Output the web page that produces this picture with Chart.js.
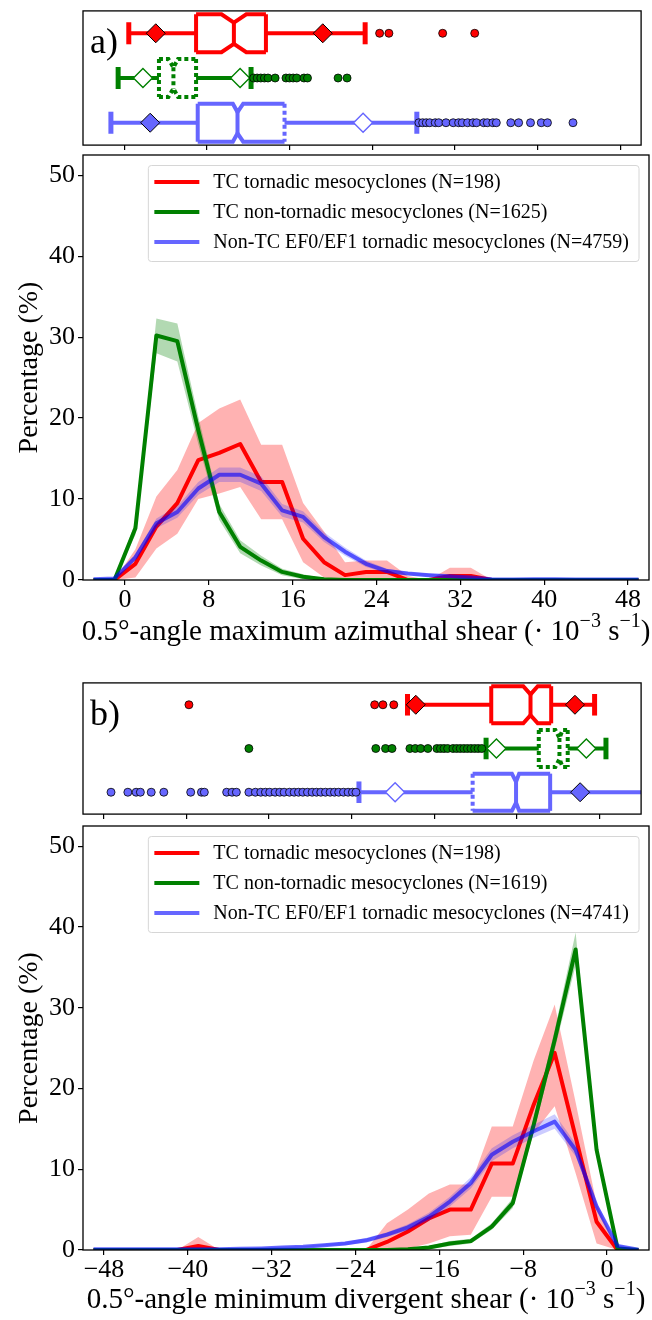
<!DOCTYPE html>
<html>
<head>
<meta charset="utf-8">
<script src="https://cdn.jsdelivr.net/npm/chart.js@4.4.1/dist/chart.umd.min.js"></script>
<style>
  html, body { margin: 0; padding: 0; background: #fff; }
  #wrap { position: relative; width: 652px; height: 1320px; overflow: hidden; }
  canvas { position: absolute; left: 0; }
</style>
</head>
<body>
<div id="wrap">
  <canvas id="boxA" width="652" height="156" style="top:0px"></canvas>
  <canvas id="lineA" width="652" height="510" style="top:150px"></canvas>
  <canvas id="boxB" width="652" height="153" style="top:672px"></canvas>
  <canvas id="lineB" width="652" height="500" style="top:820px"></canvas>
</div>
<script>
const SERIF = "'Liberation Serif', 'DejaVu Serif', serif";
const RED = '#ff0000', GREEN = '#008000', BLUE = '#6666ff';
const BLUE_LINE = 'rgba(0,0,255,0.6)';

// ---- panel a: maximum azimuthal shear ----
const xA = [-3, -1, 1, 3, 5, 7, 9, 11, 13, 15, 17, 19, 21, 23, 25, 27, 29, 31, 33, 35, 37, 39, 41, 43, 45, 47, 49];
const redA   = [0, 0, 2.0, 6.6, 9.5, 14.8, 15.7, 16.8, 12.1, 12.1, 5.1, 2.2, 0.6, 1.0, 1.0, 0, 0, 0.5, 0.5, 0, 0, 0, 0, 0, 0, 0, 0];
const redLoA = [0, 0, 0.3, 3.9, 5.7, 10.0, 10.7, 11.5, 7.5, 7.5, 2.2, 0.3, 0, 0, 0, 0, 0, 0, 0, 0, 0, 0, 0, 0, 0, 0, 0];
const redHiA = [0, 0, 3.8, 10.3, 13.6, 19.4, 21.2, 22.3, 16.7, 16.7, 9.5, 6.0, 2.2, 2.4, 2.4, 0.5, 0, 1.5, 1.5, 0, 0, 0, 0, 0, 0, 0, 0];
const greenA   = [0, 0, 6.4, 30.2, 29.5, 18.5, 8.4, 4.1, 2.4, 1.0, 0.4, 0.1, 0, 0, 0, 0, 0, 0, 0, 0, 0, 0, 0, 0, 0, 0, 0];
const greenLoA = [0, 0, 5.6, 28.0, 27.0, 16.8, 7.4, 3.3, 1.8, 0.6, 0.1, 0, 0, 0, 0, 0, 0, 0, 0, 0, 0, 0, 0, 0, 0, 0, 0];
const greenHiA = [0, 0, 7.2, 32.3, 31.7, 20.2, 9.4, 4.9, 3.0, 1.4, 0.7, 0.2, 0, 0, 0, 0, 0, 0, 0, 0, 0, 0, 0, 0, 0, 0, 0];
const blueA   = [0.1, 0.2, 2.8, 7.0, 8.4, 11.3, 13.0, 13.0, 11.9, 8.6, 7.8, 5.3, 3.5, 2.0, 1.1, 0.8, 0.6, 0.45, 0.3, 0.1, 0.05, 0.1, 0.1, 0.05, 0.05, 0.05, 0.05];
const blueLoA = [0.05, 0.1, 2.4, 6.4, 7.7, 10.5, 12.1, 12.1, 11.0, 7.8, 7.1, 4.7, 3.0, 1.6, 0.8, 0.6, 0.4, 0.3, 0.2, 0.05, 0, 0.05, 0.05, 0, 0, 0, 0];
const blueHiA = [0.15, 0.3, 3.2, 7.6, 9.1, 12.1, 13.9, 13.9, 12.8, 9.4, 8.5, 5.9, 4.0, 2.4, 1.4, 1.0, 0.8, 0.6, 0.4, 0.15, 0.1, 0.15, 0.15, 0.1, 0.1, 0.1, 0.1];
const labelsA = ['TC tornadic mesocyclones (N=198)', 'TC non-tornadic mesocyclones (N=1625)', 'Non-TC EF0/EF1 tornadic mesocyclones (N=4759)'];
const xTicksA = [0, 8, 16, 24, 32, 40, 48];

// box rows: red, green, blue
const whiskLoA = [0.43, -0.6, -1.3];
const q1A      = [6.94, 3.35, 7.1];
const notchLoA = [9.4, 4.26, 10.5];
const medA     = [10.6, 4.75, 10.95];
const notchHiA = [11.8, 5.2, 11.5];
const q3A      = [13.7, 6.94, 15.5];
const whiskHiA = [23.3, 12.26, 28.3];
const markLoA  = [3.04, 1.8, 2.5];
const markHiA  = [19.2, 11.2, 23.1];
const markFilledA = [[true, true], [false, false], [true, false]];
const outRedA   = [24.7, 25.6, 30.8, 33.9];
const outGreenA = [12.51, 12.85, 13.2, 13.55, 13.9, 14.59, 15.64, 15.98, 16.33, 16.68, 17.38, 17.72, 20.68, 21.55];
const outBlueA  = [28.5, 28.86, 29.21, 29.55, 30.08, 30.42, 31.12, 31.82, 32.34, 32.69, 33.21, 33.73, 34.08, 34.77, 35.12, 35.65, 35.99, 37.39, 38.15, 39.3, 40.34, 40.94, 43.41];

// ---- panel b: minimum divergent shear ----
const xB = [-49, -47, -45, -43, -41, -39, -37, -35, -33, -31, -29, -27, -25, -23, -21, -19, -17, -15, -13, -11, -9, -7, -5, -3, -1, 1, 3];
const redB   = [0, 0, 0, 0, 0, 0.5, 0, 0, 0, 0, 0, 0, 0, 0, 1.0, 2.3, 3.9, 5.0, 5.0, 10.7, 10.7, 18.0, 24.4, 14.0, 3.5, 0, 0];
const redLoB = [0, 0, 0, 0, 0, 0, 0, 0, 0, 0, 0, 0, 0, 0, 0, 0.2, 0.8, 1.7, 1.9, 6.6, 6.6, 14.5, 17.8, 9.5, 0.8, 0, 0];
const redHiB = [0, 0, 0, 0, 0, 1.6, 0, 0, 0, 0, 0, 0, 0, 0, 3.3, 5.0, 7.0, 8.1, 8.1, 15.3, 15.3, 23.5, 30.4, 18.3, 5.7, 0, 0];
const greenB   = [0, 0, 0, 0, 0, 0, 0, 0, 0, 0, 0, 0, 0, 0, 0, 0.1, 0.3, 0.8, 1.1, 2.9, 5.8, 15.5, 26.0, 37.2, 12.4, 0.2, 0];
const greenLoB = [0, 0, 0, 0, 0, 0, 0, 0, 0, 0, 0, 0, 0, 0, 0, 0, 0.1, 0.5, 0.8, 2.5, 5.2, 14.6, 24.8, 35.3, 11.5, 0.1, 0];
const greenHiB = [0, 0, 0, 0, 0, 0, 0, 0, 0, 0, 0, 0, 0, 0, 0, 0.2, 0.5, 1.1, 1.4, 3.3, 6.4, 16.4, 27.2, 39.3, 13.3, 0.3, 0];
const blueB   = [0.1, 0.1, 0.1, 0.1, 0.1, 0.1, 0.1, 0.15, 0.2, 0.3, 0.4, 0.6, 0.8, 1.2, 1.9, 2.8, 4.1, 6.0, 8.3, 11.8, 13.4, 14.7, 15.9, 12.4, 5.4, 0.5, 0.05];
const blueLoB = [0.05, 0.05, 0.05, 0.05, 0.05, 0.05, 0.05, 0.1, 0.1, 0.2, 0.3, 0.45, 0.6, 0.9, 1.6, 2.4, 3.6, 5.4, 7.6, 11.0, 12.6, 13.9, 15.0, 11.6, 4.9, 0.3, 0];
const blueHiB = [0.15, 0.15, 0.15, 0.15, 0.15, 0.15, 0.15, 0.2, 0.3, 0.4, 0.5, 0.75, 1.0, 1.5, 2.2, 3.2, 4.6, 6.6, 9.0, 12.6, 14.2, 15.5, 16.8, 13.2, 5.9, 0.7, 0.1];
const labelsB = ['TC tornadic mesocyclones (N=198)', 'TC non-tornadic mesocyclones (N=1619)', 'Non-TC EF0/EF1 tornadic mesocyclones (N=4741)'];
const xTicksB = [-48, -40, -32, -24, -16, -8, 0];

const whiskLoB = [-18.6, -11.0, -23.3];
const q1B      = [-10.5, -5.9, -12.3];
const notchLoB = [-7.4, -4.3, -8.5];
const medB     = [-6.7, -3.9, -8.1];
const notchHiB = [-6.0, -3.6, -7.8];
const q3B      = [-4.7, -3.1, -4.8];
const whiskHiB = [-0.5, 0.6, 6.0];
const markLoB  = [-17.8, -10.0, -19.8];
const markHiB  = [-2.4, -1.3, -1.9];
const markFilledB = [[true, true], [false, false], [false, true]];
const outRedB   = [-39.75, -21.78, -20.98, -19.93];
const outGreenB = [-33.95, -21.67, -20.73, -20.1, -18.37, -17.85, -17.33, -16.63, -15.76, -15.41, -15.07, -14.72, -14.2, -13.85, -13.5, -13.15, -12.81, -12.46, -12.11, -11.77, -11.42];
const outBlueB  = [-47.29, -45.66, -44.86, -44.45, -43.4, -42.18, -39.58, -38.54, -38.26, -36.1, -35.58, -35.16, -33.95, -33.32, -32.8, -32.35, -31.93, -31.41, -30.96, -30.54, -30.02, -29.57, -29.15, -28.73, -28.28, -27.83, -27.41, -26.99, -26.54, -26.09, -25.67, -25.26, -24.8, -24.35, -23.93, -23.59];

const yTicks = [0, 10, 20, 30, 40, 50];

Chart.defaults.font.family = SERIF;
Chart.defaults.color = '#000';
Chart.defaults.animation = false;

const fmt = v => (v < 0 ? '\u2212' + Math.abs(v) : String(v));
const pts = (xs, ys) => xs.map((x, i) => ({x, y: ys[i]}));

function hline(ctx, x1, y1, x2, y2) {
  ctx.beginPath(); ctx.moveTo(x1, y1); ctx.lineTo(x2, y2); ctx.stroke();
}

const framePlugin = {
  id: 'frame',
  afterDatasetsDraw(chart) {
    const {ctx, chartArea: a} = chart;
    ctx.save();
    ctx.strokeStyle = '#000';
    ctx.lineWidth = 1.3;
    ctx.strokeRect(a.left, a.top, a.width, a.height);
    ctx.restore();
  }
};

const legendPlugin = {
  id: 'innerLegend',
  afterDraw(chart) {
    const {ctx, chartArea: a} = chart;
    const items = chart.data.datasets.filter(d => d.label);
    ctx.save();
    ctx.font = '20px ' + SERIF;
    const tw = Math.max(...items.map(d => ctx.measureText(d.label).width));
    const w = 65 + tw + 10, h = 96;
    const right = a.right - 10, left = right - w, top = a.top + 10.5;
    ctx.beginPath();
    ctx.roundRect(left, top, w, h, 3);
    ctx.fillStyle = 'rgba(255,255,255,0.8)';
    ctx.fill();
    ctx.strokeStyle = '#d6d6d6';
    ctx.lineWidth = 1;
    ctx.stroke();
    items.forEach((d, i) => {
      const yy = top + 16.5 + i * 30;
      ctx.strokeStyle = d.borderColor;
      ctx.lineWidth = 4;
      hline(ctx, left + 6, yy, left + 51, yy);
      ctx.fillStyle = '#000';
      ctx.textBaseline = 'middle';
      ctx.fillText(d.label, left + 65, yy + 1);
    });
    ctx.restore();
  }
};

function xTitlePlugin(parts, dy) {
  return {
    id: 'xTitle',
    afterDraw(chart) {
      const {ctx, chartArea: a} = chart;
      ctx.save();
      ctx.fillStyle = '#000';
      ctx.textBaseline = 'middle';
      const fontOf = p => (p.sup ? '20px ' : '29px ') + SERIF;
      let total = 0;
      parts.forEach(p => { ctx.font = fontOf(p); total += ctx.measureText(p.t).width; });
      let x = (a.left + a.right) / 2 - total / 2;
      const y = a.bottom + dy;
      parts.forEach(p => {
        ctx.font = fontOf(p);
        ctx.fillText(p.t, x, p.sup ? y - 10 : y);
        x += ctx.measureText(p.t).width;
      });
      ctx.restore();
    }
  };
}

function lineChart(id, xs, series, labels, xMin, xMax, xTicks, padTop, xHeight, titleParts, titleDy) {
  const colors = [RED, GREEN, BLUE_LINE];
  const bands = ['rgba(255,0,0,0.3)', 'rgba(0,128,0,0.3)', 'rgba(0,0,255,0.2)'];
  const datasets = [];
  let order = 9;
  series.forEach((s, i) => {
    datasets.push({data: pts(xs, s.lo), borderWidth: 0, pointRadius: 0, fill: false, order: order--});
    datasets.push({data: pts(xs, s.hi), borderWidth: 0, pointRadius: 0, fill: '-1', backgroundColor: bands[i], order: order--});
    datasets.push({label: labels[i], data: pts(xs, s.mid), borderColor: colors[i], borderWidth: 4,
      borderJoinStyle: 'round', pointRadius: 0, fill: false, order: order--});
  });
  return new Chart(document.getElementById(id), {
    type: 'line',
    data: {datasets},
    options: {
      responsive: false,
      devicePixelRatio: 1,
      layout: {padding: {top: padTop, right: 3, left: 0, bottom: 0}},
      plugins: {legend: {display: false}, tooltip: {enabled: false}},
      scales: {
        x: {
          type: 'linear', min: xMin, max: xMax,
          afterBuildTicks: s => { s.ticks = xTicks.map(v => ({value: v})); },
          afterFit: s => { s.height = xHeight; s.paddingLeft = 0; s.paddingRight = 0; },
          border: {display: false},
          grid: {drawOnChartArea: false, drawTicks: true, tickLength: 5, lineWidth: 1.2, color: '#000'},
          ticks: {font: {size: 26}, padding: 0, maxRotation: 0, callback: v => fmt(v)}
        },
        y: {
          min: 0, max: 52.5,
          afterBuildTicks: s => { s.ticks = yTicks.map(v => ({value: v})); },
          afterFit: s => { s.width = 83; s.paddingTop = 0; s.paddingBottom = 0; },
          border: {display: false},
          grid: {drawOnChartArea: false, drawTicks: true, tickLength: 5, lineWidth: 1.2, color: '#000'},
          ticks: {font: {size: 26}, padding: 3},
          title: {display: true, text: 'Percentage (%)', font: {size: 28}, padding: {top: 13, bottom: 0}}
        }
      }
    },
    plugins: [framePlugin, legendPlugin, xTitlePlugin(titleParts, titleDy)]
  });
}

function boxPlugin(st, tag) {
  return {
    id: 'boxes',
    beforeDatasetsDraw(chart) {
      const {ctx, chartArea: a, scales: {x, y}} = chart;
      const px = v => x.getPixelForValue(v);
      ctx.save();
      ctx.beginPath(); ctx.rect(a.left, a.top, a.width, a.height); ctx.clip();
      st.rows.forEach((row, i) => {
        const yc = y.getPixelForValue(row);
        const yt = y.getPixelForValue(row + 0.425), yb = y.getPixelForValue(row - 0.425);
        const ins = (yb - yt) * 0.22, ch = (yb - yt) * 0.29;
        const dash = st.dash[i];
        const dot = on => ctx.setLineDash(on ? [4, 3] : []);
        ctx.strokeStyle = st.colors[i];
        ctx.lineCap = 'butt';
        ctx.lineJoin = 'miter';
        ctx.setLineDash([]);
        ctx.lineWidth = 4;
        hline(ctx, px(st.whiskLo[i]), yc, px(st.q1[i]), yc);
        hline(ctx, px(st.q3[i]), yc, px(st.whiskHi[i]), yc);
        ctx.lineWidth = 5;
        hline(ctx, px(st.whiskLo[i]), yc - ch, px(st.whiskLo[i]), yc + ch);
        hline(ctx, px(st.whiskHi[i]), yc - ch, px(st.whiskHi[i]), yc + ch);
        ctx.lineWidth = 4;
        const x1 = px(st.q1[i]), x2 = px(st.notchLo[i]), xm = px(st.med[i]), x3 = px(st.notchHi[i]), x4 = px(st.q3[i]);
        dot(dash.all);
        [[yt, ins], [yb, -ins]].forEach(([ye, d]) => {
          ctx.beginPath();
          ctx.moveTo(x1, ye); ctx.lineTo(x2, ye); ctx.lineTo(xm, ye + d); ctx.lineTo(x3, ye); ctx.lineTo(x4, ye);
          ctx.stroke();
        });
        hline(ctx, xm, yt + ins, xm, yb - ins);
        dot(dash.all || dash.left);
        hline(ctx, x1, yt, x1, yb);
        dot(dash.all || dash.right);
        hline(ctx, x4, yt, x4, yb);
      });
      ctx.restore();
    },
    afterDraw(chart) {
      const {ctx, chartArea: a} = chart;
      ctx.save();
      ctx.font = '36px ' + SERIF;
      ctx.fillStyle = '#000';
      ctx.textBaseline = 'alphabetic';
      ctx.fillText(tag, a.left + 7, a.top + 42);
      ctx.restore();
    }
  };
}

function boxChart(id, st, outs, markLo, markHi, filled, xMin, xMax, xTicks, tag) {
  const fills = [RED, GREEN, BLUE];
  const datasets = [];
  st.rows.forEach((row, i) => {
    datasets.push({data: outs[i].map(v => ({x: v, y: row})), pointRadius: 4, backgroundColor: fills[i],
      borderColor: '#000', borderWidth: 0.8});
  });
  st.rows.forEach((row, i) => {
    const f = filled[i];
    datasets.push({
      data: [{x: markLo[i], y: row}, {x: markHi[i], y: row}],
      pointStyle: 'rectRot', pointRadius: 9.5,
      backgroundColor: f.map(b => (b ? fills[i] : '#fff')),
      borderColor: f.map(b => (b ? '#000' : fills[i])),
      borderWidth: f.map(b => (b ? 1 : 1.4))
    });
  });
  return new Chart(document.getElementById(id), {
    type: 'scatter',
    data: {datasets},
    options: {
      responsive: false,
      devicePixelRatio: 1,
      layout: {padding: {top: 8, right: 3, left: 83, bottom: 0}},
      plugins: {legend: {display: false}, tooltip: {enabled: false}},
      scales: {
        x: {
          type: 'linear', min: xMin, max: xMax,
          afterBuildTicks: s => { s.ticks = xTicks.map(v => ({value: v})); },
          afterFit: s => { s.height = 7; s.paddingLeft = 0; s.paddingRight = 0; },
          border: {display: false},
          grid: {drawOnChartArea: false, drawTicks: true, tickLength: 5, lineWidth: 1.2, color: '#000'},
          ticks: {display: false}
        },
        y: {display: false, min: 0.5, max: 3.5}
      }
    },
    plugins: [framePlugin, boxPlugin(st, tag)]
  });
}

const boxColors = [RED, GREEN, BLUE];
const boxRows = [3, 2, 1];

boxChart('boxA', {
  rows: boxRows, colors: boxColors,
  whiskLo: whiskLoA, q1: q1A, notchLo: notchLoA, med: medA, notchHi: notchHiA, q3: q3A, whiskHi: whiskHiA,
  dash: [{}, {all: true}, {right: true}]
}, [outRedA, outGreenA, outBlueA], markLoA, markHiA, markFilledA, -4, 50, xTicksA, 'a)');

lineChart('lineA', xA, [
  {mid: redA, lo: redLoA, hi: redHiA},
  {mid: greenA, lo: greenLoA, hi: greenHiA},
  {mid: blueA, lo: blueLoA, hi: blueHiA}
], labelsA, -4, 50, xTicksA, 5, 80, [
  {t: '0.5\u00b0-angle maximum azimuthal shear (\u00b7 10'}, {t: '\u22123', sup: true},
  {t: ' s'}, {t: '\u22121', sup: true}, {t: ')'}
], 52);

boxChart('boxB', {
  rows: boxRows, colors: boxColors,
  whiskLo: whiskLoB, q1: q1B, notchLo: notchLoB, med: medB, notchHi: notchHiB, q3: q3B, whiskHi: whiskHiB,
  dash: [{}, {all: true}, {left: true}]
}, [outRedB, outGreenB, outBlueB], markLoB, markHiB, markFilledB, -50, 4, xTicksB, 'b)');

lineChart('lineB', xB, [
  {mid: redB, lo: redLoB, hi: redHiB},
  {mid: greenB, lo: greenLoB, hi: greenHiB},
  {mid: blueB, lo: blueLoB, hi: blueHiB}
], labelsB, -50, 4, xTicksB, 6, 70, [
  {t: '0.5\u00b0-angle minimum divergent shear (\u00b7 10'}, {t: '\u22123', sup: true},
  {t: ' s'}, {t: '\u22121', sup: true}, {t: ')'}
], 50);
</script>
</body>
</html>
